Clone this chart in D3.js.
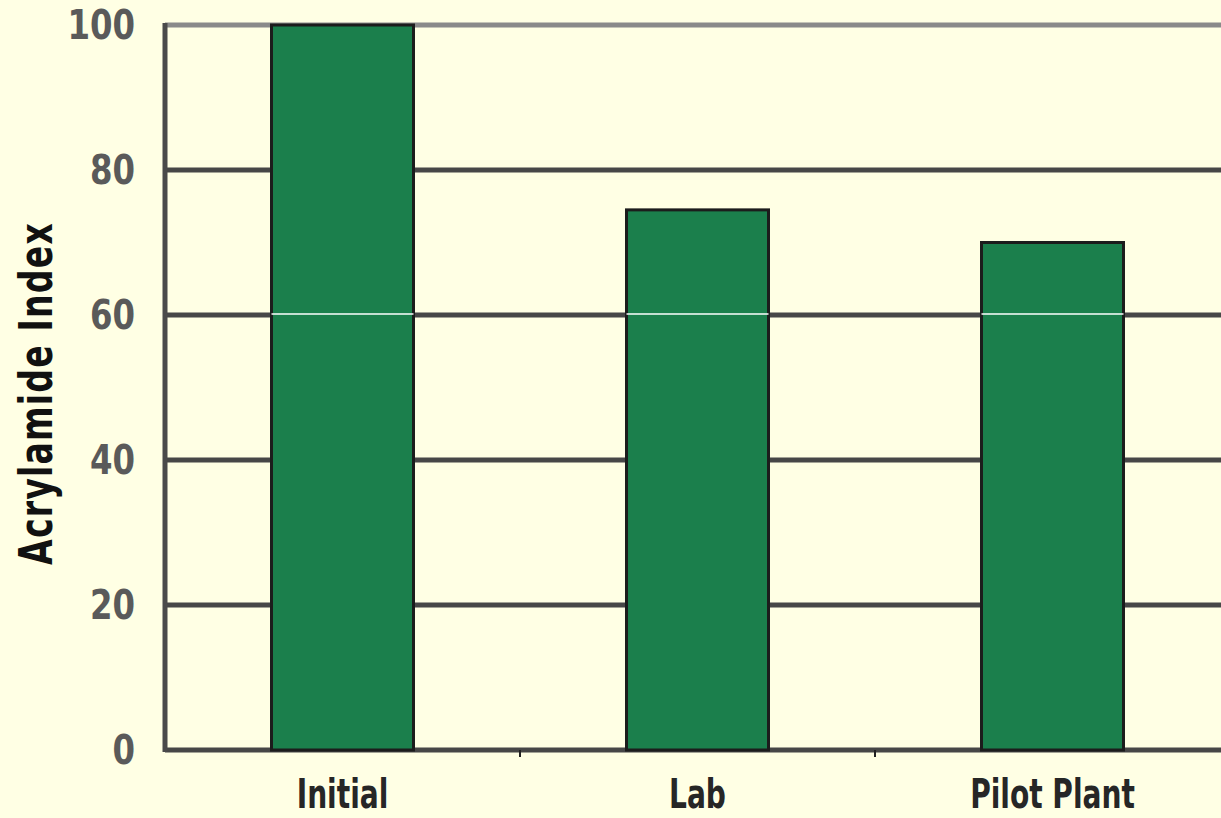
<!DOCTYPE html>
<html>
<head>
<meta charset="utf-8">
<script src="https://cdn.jsdelivr.net/npm/d3@7"></script>
<style>
  html, body { margin: 0; padding: 0; background: #ffffe4; }
  svg { display: block; }
</style>
</head>
<body>
<svg id="chart" width="1221" height="818"></svg>
<script>
// Acrylamide index by stage
const categories = ["Initial", "Lab", "Pilot Plant"];
const values = [100, 74.5, 70];
const yTicks = [0, 20, 40, 60, 80, 100];
const yTitle = "Acrylamide Index";

const W = 1221, H = 818;
const margin = { left: 165, top: 25, bottom: 68 };
const FONT = "'DejaVu Sans Condensed', 'Liberation Sans Narrow', 'Arial Narrow', sans-serif";

const svg = d3.select("#chart");

const x = d3.scaleBand()
  .domain(categories)
  .range([margin.left, margin.left + 3 * 355])
  .paddingInner(0.6)
  .paddingOuter(0.3);

const y = d3.scaleLinear()
  .domain([0, 100])
  .range([H - margin.bottom, margin.top]);

// horizontal gridlines with value labels
const grid = svg.append("g");
grid.selectAll("line")
  .data(yTicks)
  .join("line")
  .attr("x1", margin.left)
  .attr("x2", W + 20)
  .attr("y1", d => y(d))
  .attr("y2", d => y(d))
  .attr("stroke", d => d === 100 ? "#8a8a8a" : "#474747")
  .attr("stroke-width", 5);

grid.selectAll("text")
  .data(yTicks)
  .join("text")
  .attr("transform", d => `translate(${margin.left - 30}, ${y(d)}) scale(0.9, 1)`)
  .attr("dy", "0.36em")
  .attr("text-anchor", "end")
  .attr("font-family", FONT)
  .attr("font-weight", "bold")
  .attr("font-size", 40)
  .attr("fill", "#5a5a5a")
  .text(d => d);

// vertical axis line
svg.append("line")
  .attr("x1", margin.left).attr("x2", margin.left)
  .attr("y1", y(100) - 2).attr("y2", y(0) + 2)
  .attr("stroke", "#4a4a4a")
  .attr("stroke-width", 5);

// small ticks at the category boundaries
const bounds = [1, 2].map(i => margin.left + i * x.step());
svg.append("g").selectAll("line")
  .data(bounds)
  .join("line")
  .attr("x1", d => d).attr("x2", d => d)
  .attr("y1", y(0)).attr("y2", y(0) + 7)
  .attr("stroke", "#222")
  .attr("stroke-width", 2);

// bars
const rows = categories.map((c, i) => ({ c, v: values[i] }));
const bars = svg.append("g");
bars.selectAll("rect")
  .data(rows)
  .join("rect")
  .attr("x", d => x(d.c))
  .attr("y", d => y(d.v))
  .attr("width", x.bandwidth())
  .attr("height", d => y(0) - y(d.v))
  .attr("fill", "#1b7f4c")
  .attr("stroke", "#1c1c1c")
  .attr("stroke-width", 3);

// light rule across the bars at 60
bars.selectAll("line")
  .data(rows.filter(d => d.v > 60))
  .join("line")
  .attr("x1", d => x(d.c))
  .attr("x2", d => x(d.c) + x.bandwidth())
  .attr("y1", y(60) - 1)
  .attr("y2", y(60) - 1)
  .attr("stroke", "#ffffff")
  .attr("stroke-width", 1.5);

// category labels (narrowed)
svg.append("g").selectAll("text")
  .data(categories)
  .join("text")
  .attr("transform", d => `translate(${x(d) + x.bandwidth() / 2}, ${H - 10}) scale(0.78, 1)`)
  .attr("text-anchor", "middle")
  .attr("font-family", FONT)
  .attr("font-weight", "bold")
  .attr("font-size", 40)
  .attr("fill", "#262626")
  .text(d => d);

// y axis title (narrowed)
svg.append("text")
  .attr("transform", `translate(52, ${y(50) + 6}) rotate(-90) scale(0.8, 1)`)
  .attr("text-anchor", "middle")
  .attr("font-family", FONT)
  .attr("font-weight", "bold")
  .attr("font-size", 46)
  .attr("letter-spacing", 1.5)
  .attr("fill", "#111")
  .text(yTitle);
</script>
</body>
</html>
